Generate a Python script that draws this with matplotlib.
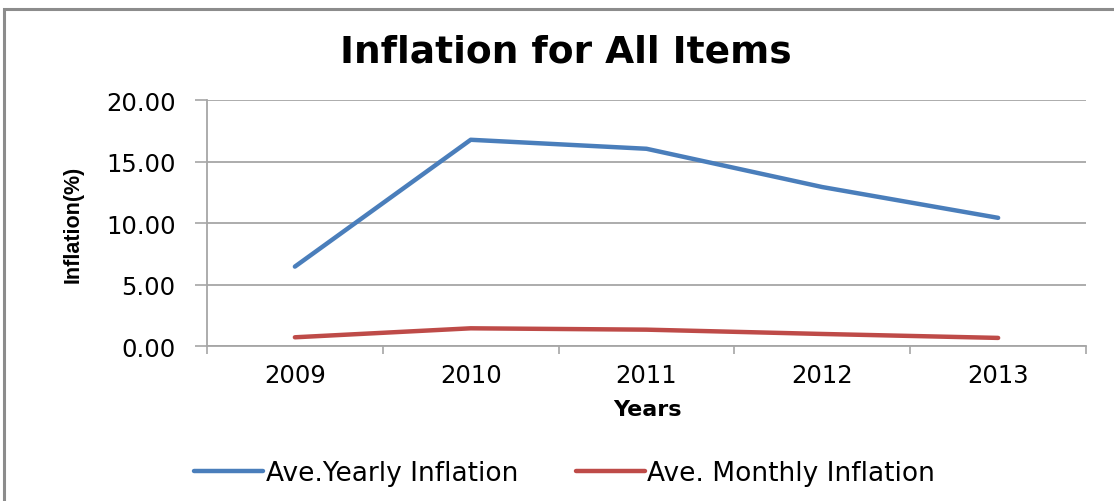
import matplotlib.pyplot as plt
from matplotlib.patches import Rectangle
import numpy as np

years = ["2009", "2010", "2011", "2012", "2013"]
yearly_inflation = [6.47, 16.77, 16.04, 12.93, 10.43]
monthly_inflation = [0.73, 1.46, 1.35, 1.00, 0.68]
y_ticks = [0, 5, 10, 15, 20]

blue = "#4A7EBB"
red = "#BE4B48"
grid_gray = "#A6A6A6"

fig = plt.figure(figsize=(11.14, 5.02), dpi=100)
ax = fig.add_axes([0.1858, 0.3082, 0.7891, 0.4906])

x = np.arange(len(years))
ax.plot(x, yearly_inflation, color=blue, lw=3.2, solid_capstyle="round", label="Ave.Yearly Inflation")
ax.plot(x, monthly_inflation, color=red, lw=3.2, solid_capstyle="round", label="Ave. Monthly Inflation")

ax.set_xlim(-0.5, len(years) - 0.5)
ax.set_ylim(0, 20)

# y axis: gray gridlines, outward ticks, two-decimal labels
ax.set_yticks(y_ticks)
ax.set_yticklabels(["{:.2f}".format(v) for v in y_ticks])
ax.yaxis.grid(True, color=grid_gray, lw=1.3)
ax.tick_params(axis="y", length=8.6, width=1.2, color=grid_gray, pad=14, labelsize=17.5)

# x axis: tick marks between categories, labels at category centres
ax.set_xticks(np.arange(len(years) + 1) - 0.5)
ax.set_xticklabels([])
ax.set_xticks(x, minor=True)
ax.set_xticklabels(years, minor=True)
ax.tick_params(axis="x", which="major", length=6, width=1.2, color=grid_gray, direction="out")
ax.tick_params(axis="x", which="minor", length=0, pad=12, labelsize=17.5)

for side in ["top", "right"]:
    ax.spines[side].set_visible(False)
for side in ["left", "bottom"]:
    ax.spines[side].set_color(grid_gray)
    ax.spines[side].set_linewidth(1.3)
ax.set_axisbelow(True)

fig.text(0.508, 0.896, "Inflation for All Items", ha="center", va="center",
         fontsize=27, fontweight="bold")
fig.text(0.581, 0.183, "Years", ha="center", va="center", fontsize=16, fontweight="bold")
fig.text(0.066, 0.553, "Inflation(%)", ha="center", va="center", rotation=90,
         fontsize=15.5, fontweight="bold", family="Liberation Sans")

fig.legend(loc="center", bbox_to_anchor=(0.507, 0.056), ncol=2, frameon=False,
           fontsize=19, handlelength=2.6, handletextpad=0.1, columnspacing=2.2)

# outer chart frame
fig.patches.append(Rectangle((4 / 1114, -0.1), 1.1, 1.1 - 10 / 502, transform=fig.transFigure,
                             fill=False, edgecolor="#8C8C8C", lw=2.2))

fig.savefig("out.png", dpi=100)
